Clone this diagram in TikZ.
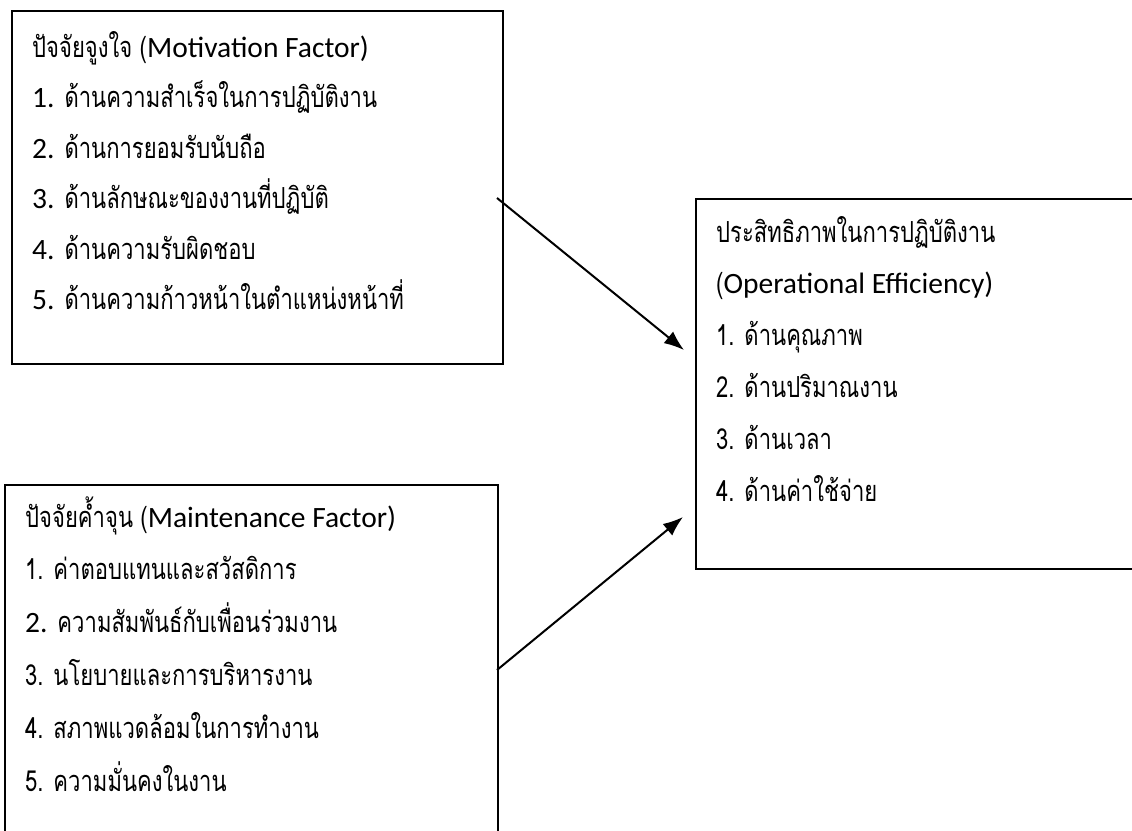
\documentclass[tikz,border=0pt]{standalone}
\usepackage{fontspec}
\setmainfont{Carlito}
\newfontfamily\thaifont[Script=Thai, FakeStretch=0.76]{Loma}
\newcommand{\lat}[1]{{\normalfont\fontsize{29.5}{32}\selectfont #1}}
\usetikzlibrary{arrows.meta,positioning}

\tikzset{
    factorbox/.style={draw, line width=1.8pt, anchor=north west, inner sep=0pt},
    row/.style={anchor=base west, inner sep=0pt, font=\thaifont\fontsize{29}{32}\selectfont},
    flow/.style={line width=2pt, -{Latex[length=20pt,width=15pt]}},
}

\begin{document}
\begin{tikzpicture}[x=1pt, y=-1pt]
    \clip (0,0) rectangle (1132,830);

    % Motivation factor box
    \node[factorbox, minimum width=491pt, minimum height=353pt] (motbox) at (11,10) {};
    \foreach \txt [count=\i from 0] in {%
        {ปัจจัยจูงใจ (\lat{Motivation Factor)}},
        {\lat{1.} ด้านความสำเร็จในการปฏิบัติงาน},
        {\lat{2.} ด้านการยอมรับนับถือ},
        {\lat{3.} ด้านลักษณะของงานที่ปฏิบัติ},
        {\lat{4.} ด้านความรับผิดชอบ},
        {\lat{5.} ด้านความก้าวหน้าในตำแหน่งหน้าที่}} {
        \node[row] (mot-\i) at (32, 57+50.5*\i) {\txt};
    }

    % Maintenance factor box (runs off the bottom)
    \node[factorbox, minimum width=493pt, minimum height=360pt] (mtnbox) at (4,484) {};
    \foreach \txt [count=\i from 0] in {%
        {ปัจจัยค้ำจุน (\lat{Maintenance Factor)}},
        {1. ค่าตอบแทนและสวัสดิการ},
        {\lat{2.} ความสัมพันธ์กับเพื่อนร่วมงาน},
        {3. นโยบายและการบริหารงาน},
        {4. สภาพแวดล้อมในการทำงาน},
        {5. ความมั่นคงในงาน}} {
        \node[row] (mtn-\i) at (25, 527+52.8*\i) {\txt};
    }

    % Operational efficiency box (runs off the right side)
    \node[factorbox, minimum width=450pt, minimum height=370pt] (effbox) at (695,198) {};
    \foreach \txt [count=\i from 0] in {%
        {ประสิทธิภาพในการปฏิบัติงาน},
        {(\lat{Operational Efficiency)}},
        {1. ด้านคุณภาพ},
        {2. ด้านปริมาณงาน},
        {3. ด้านเวลา},
        {4. ด้านค่าใช้จ่าย}} {
        \node[row] (eff-\i) at (716, 242+51.8*\i) {\txt};
    }

    % Arrows
    \coordinate (mot-out) at (497,198);
    \coordinate (eff-in1) at (684,350);
    \coordinate (mtn-out) at (497,670);
    \coordinate (eff-in2) at (683,517);
    \draw[flow] (mot-out) -- (eff-in1);
    \draw[flow] (mtn-out) -- (eff-in2);
\end{tikzpicture}
\end{document}
